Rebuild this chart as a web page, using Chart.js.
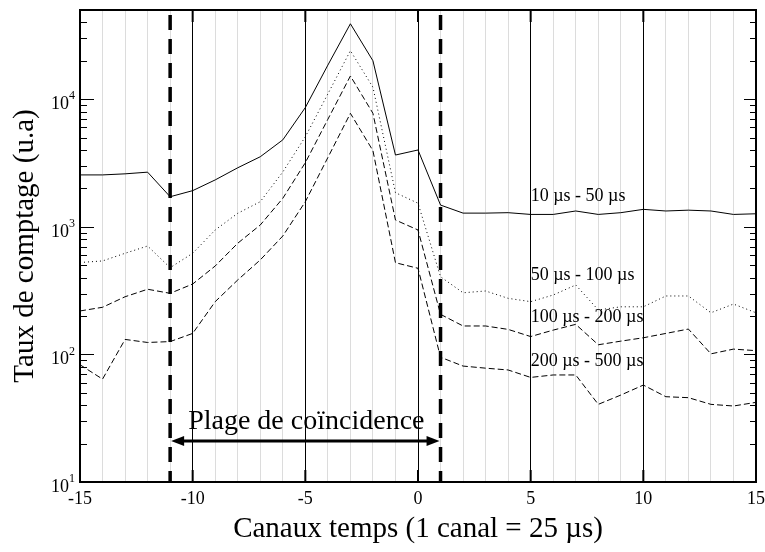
<!DOCTYPE html>
<html>
<head>
<meta charset="utf-8">
<script src="https://cdn.jsdelivr.net/npm/chart.js@4.4.1/dist/chart.umd.min.js"></script>
<style>
    html, body { margin: 0; padding: 0; background: #fff; }
    #wrap { width: 765px; height: 552px; }
</style>
</head>
<body>
<div id="wrap"><canvas id="grafica"></canvas></div>
<script>
// canaux temps -15 .. 15
const canaux = [-15, -14, -13, -12, -11, -10, -9, -8, -7, -6, -5, -4, -3, -2, -1, 0,
                1, 2, 3, 4, 5, 6, 7, 8, 9, 10, 11, 12, 13, 14, 15];

const serie10_50 = [2550, 2550, 2600, 2680, 1720, 1920, 2330, 2900, 3540, 4800, 8600, 18500, 39000, 20000, 3650, 4000,
                    1480, 1280, 1280, 1290, 1250, 1250, 1330, 1250, 1290, 1370, 1330, 1350, 1330, 1250, 1265];
const serie50_100 = [525, 540, 620, 707, 478, 620, 944, 1276, 1573, 2690, 5080, 11000, 24000, 12400, 1850, 1530,
                     406, 304, 314, 275, 259, 292, 350, 223, 236, 236, 287, 287, 212, 248, 212];
const serie100_200 = [219, 234, 283, 324, 301, 356, 493, 743, 1033, 1672, 3180, 6960, 15200, 7750, 1130, 944,
                      206, 167, 167, 157, 138, 155, 172, 119, 127, 135, 146, 158, 101, 110, 107];
const serie200_500 = [83, 64, 131, 124, 126, 146, 259, 383, 550, 847, 1573, 3490, 7750, 3950, 523, 473,
                      95, 81, 78, 75.5, 66, 69, 69, 40.6, 48, 57.5, 46.6, 45.8, 40.6, 39.4, 42.1];

const etiquetas = ["10 µs - 50 µs", "50 µs - 100 µs", "100 µs - 200 µs", "200 µs - 500 µs"];
const etiquetasX = [5, 5, 5, 5];
const etiquetasY = [1720, 419, 197, 88];

const ticksX = [-15, -10, -5, 0, 5, 10, 15];
const ticksY = [10, 100, 1000, 10000];
const exposants = ["1", "2", "3", "4"];

// plage de coïncidence
const plage = [-11, 1];
const flecheY = 21;
const texteY = 29.5;

const serif = "'Liberation Serif', 'Times New Roman', serif";

function aPuntos(valores) {
    return canaux.map((c, i) => ({ x: c, y: valores[i] }));
}

const decor = {
    id: "decor",
    afterDatasetsDraw(chart) {
        const ctx = chart.ctx;
        const xs = chart.scales.x;
        const ys = chart.scales.y;
        const a = chart.chartArea;
        ctx.save();

        // ticks menores / mayores del eje log, hacia dentro
        ctx.strokeStyle = "#000";
        ctx.lineWidth = 1.2;
        for (let d = 10; d <= 10000; d *= 10) {
            for (let k = 1; k <= 9; k++) {
                const v = d * k;
                if (v > ys.max) break;
                const py = Math.round(ys.getPixelForValue(v)) + 0.5;
                const lenL = k === 1 ? 14 : 7;
                const lenR = k === 1 ? 12 : 6;
                ctx.beginPath();
                ctx.moveTo(a.left, py); ctx.lineTo(a.left + lenL, py);
                ctx.moveTo(a.right, py); ctx.lineTo(a.right - lenR, py);
                ctx.stroke();
            }
        }
        ctx.lineWidth = 2;
        ticksX.forEach(t => {
            const px = xs.getPixelForValue(t);
            ctx.beginPath();
            ctx.moveTo(px, a.bottom); ctx.lineTo(px, a.bottom - 12);
            ctx.moveTo(px, a.top); ctx.lineTo(px, a.top + 12);
            ctx.stroke();
        });

        // etiquetas eje y: 10 con exponente
        ctx.fillStyle = "#000";
        ticksY.forEach((v, i) => {
            const py = ys.getPixelForValue(v);
            ctx.textBaseline = "middle";
            ctx.textAlign = "right";
            ctx.font = "18px " + serif;
            ctx.fillText("10", a.left - 11, py + 5);
            ctx.textAlign = "left";
            ctx.font = "12px " + serif;
            ctx.fillText(exposants[i], a.left - 11, py - 3);
        });

        // lineas verticales de la plage
        ctx.lineWidth = 3.5;
        ctx.setLineDash([15, 9]);
        plage.forEach(t => {
            const px = xs.getPixelForValue(t);
            ctx.beginPath();
            ctx.moveTo(px, a.top + 5);
            ctx.lineTo(px, a.bottom);
            ctx.stroke();
        });
        ctx.setLineDash([]);

        // flecha doble
        const x1 = xs.getPixelForValue(plage[0]);
        const x2 = xs.getPixelForValue(plage[1]);
        const fy = ys.getPixelForValue(flecheY);
        ctx.lineWidth = 3;
        ctx.beginPath();
        ctx.moveTo(x1 + 8, fy); ctx.lineTo(x2 - 8, fy);
        ctx.stroke();
        ctx.beginPath();
        ctx.moveTo(x1 + 1, fy); ctx.lineTo(x1 + 14, fy - 5); ctx.lineTo(x1 + 14, fy + 5); ctx.closePath();
        ctx.fill();
        ctx.beginPath();
        ctx.moveTo(x2 - 1, fy); ctx.lineTo(x2 - 14, fy - 5); ctx.lineTo(x2 - 14, fy + 5); ctx.closePath();
        ctx.fill();

        ctx.font = "28px " + serif;
        ctx.textAlign = "center";
        ctx.textBaseline = "middle";
        ctx.fillText("Plage de coïncidence", (x1 + x2) / 2 + 1, ys.getPixelForValue(texteY));

        // etiquetas de las series
        ctx.font = "18px " + serif;
        ctx.textAlign = "left";
        etiquetas.forEach((t, i) => {
            ctx.fillText(t, xs.getPixelForValue(etiquetasX[i]), ys.getPixelForValue(etiquetasY[i]));
        });

        // marco
        ctx.lineWidth = 2;
        ctx.strokeRect(a.left, a.top, a.right - a.left, a.bottom - a.top);
        ctx.restore();
    }
};

function serie(label, valores, dash) {
    return {
        label: label,
        data: aPuntos(valores),
        borderColor: "#000",
        borderWidth: 1,
        borderDash: dash,
        pointRadius: 0,
        tension: 0,
        fill: false
    };
}

const ctx = document.getElementById("grafica").getContext("2d");

new Chart(ctx, {
    type: "line",
    data: {
        datasets: [
            serie(etiquetas[0], serie10_50, []),
            serie(etiquetas[1], serie50_100, [1, 3]),
            serie(etiquetas[2], serie100_200, [6, 3]),
            serie(etiquetas[3], serie200_500, [6, 3])
        ]
    },
    options: {
        responsive: true,
        maintainAspectRatio: false,
        animation: false,
        layout: { padding: { top: 10, right: 9, left: 0, bottom: 0 } },
        plugins: {
            legend: { display: false },
            tooltip: { enabled: false }
        },
        scales: {
            x: {
                type: "linear",
                min: -15,
                max: 15,
                border: { display: false },
                ticks: {
                    stepSize: 1,
                    autoSkip: false,
                    maxRotation: 0,
                    padding: 6,
                    color: "#000",
                    font: { family: serif, size: 18 },
                    callback: v => (v % 5 === 0 ? String(v) : "")
                },
                grid: {
                    drawTicks: false,
                    color: c => (c.tick.value % 5 === 0 ? "#000" : "#dcdcdc"),
                    lineWidth: 1
                },
                title: {
                    display: true,
                    text: "Canaux temps (1 canal = 25 µs)",
                    color: "#000",
                    font: { family: serif, size: 29 },
                    padding: { top: 0, bottom: 5 }
                },
                afterFit: s => {
                    s.height = 70;
                    s.paddingLeft = 0;
                    s.paddingRight = 0;
                }
            },
            y: {
                type: "logarithmic",
                min: 10,
                max: 50000,
                border: { display: false },
                afterBuildTicks: s => { s.ticks = ticksY.map(v => ({ value: v })); },
                ticks: { display: false },
                grid: { display: false },
                title: {
                    display: true,
                    text: "Taux de comptage (u.a)",
                    color: "#000",
                    font: { family: serif, size: 29 },
                    padding: { top: 8, bottom: 0 }
                },
                afterFit: s => {
                    s.width = 80;
                    s.paddingTop = 0;
                    s.paddingBottom = 0;
                }
            }
        }
    },
    plugins: [decor]
});
</script>
</body>
</html>
